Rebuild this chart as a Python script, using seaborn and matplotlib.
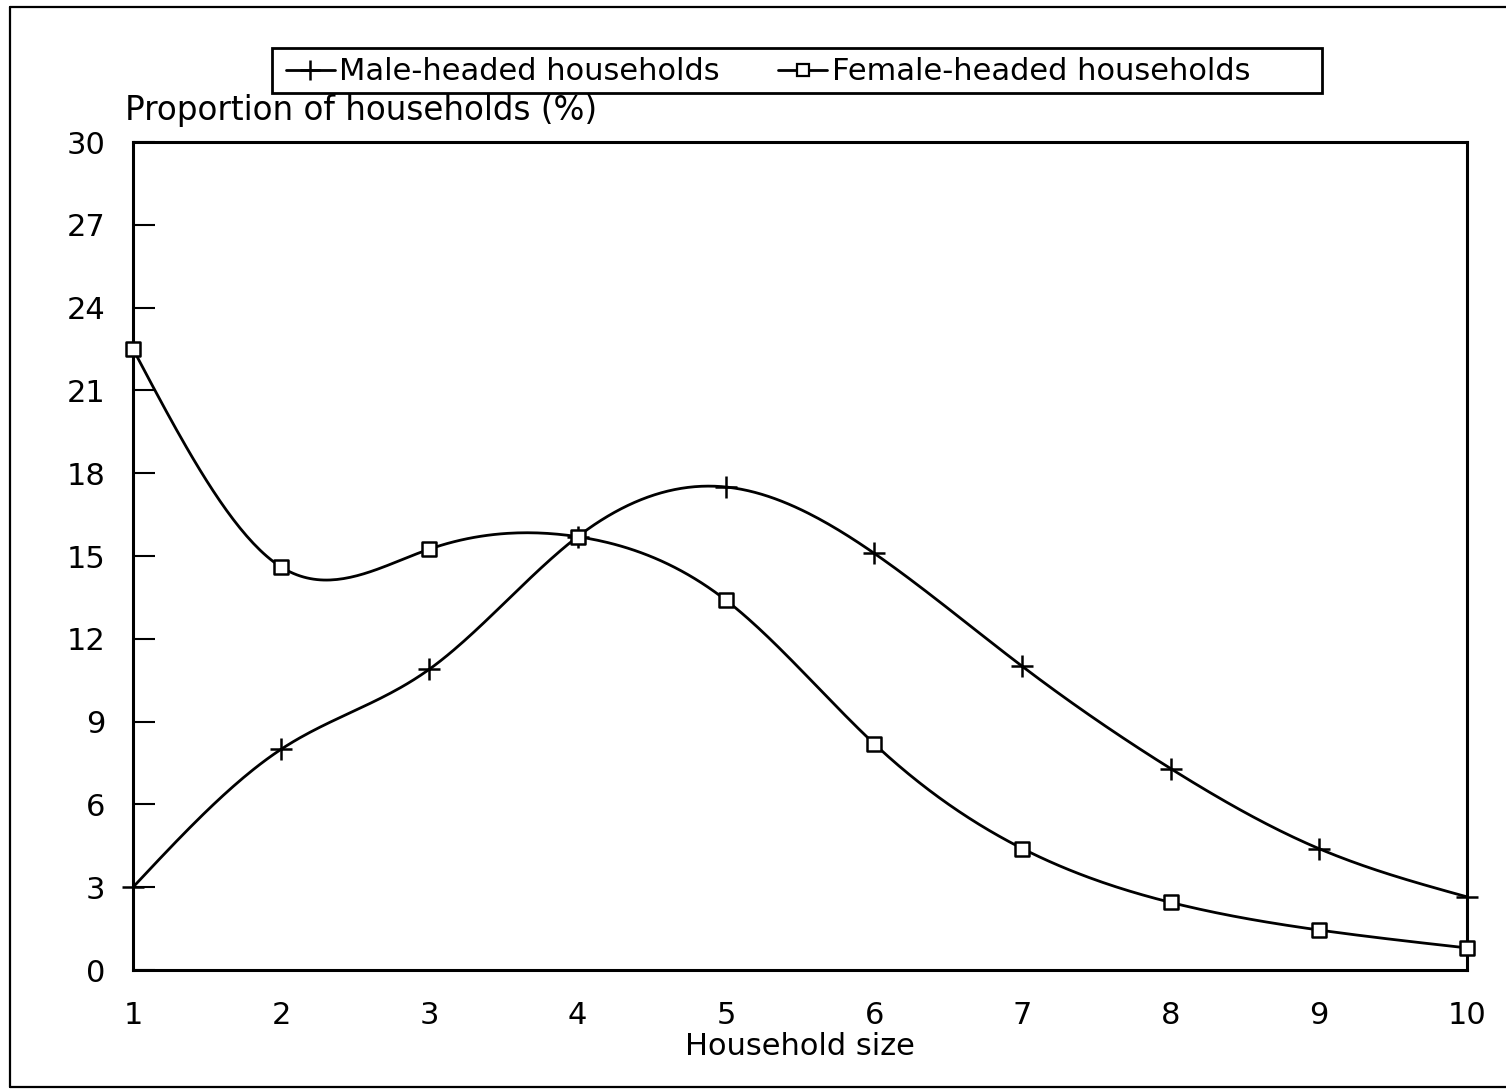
import numpy as np
import pandas as pd
import matplotlib
matplotlib.use("Agg")
import matplotlib.pyplot as plt
from matplotlib.lines import Line2D
from matplotlib.patches import Rectangle
import seaborn as sns

# ---- data ----
household_size = [1, 2, 3, 4, 5, 6, 7, 8, 9, 10]
male_headed = [3.0, 8.0, 10.9, 15.7, 17.5, 15.1, 11.0, 7.3, 4.4, 2.65]
female_headed = [22.5, 14.6, 15.25, 15.7, 13.4, 8.2, 4.4, 2.45, 1.45, 0.8]
y_ticks = [0, 3, 6, 9, 12, 15, 18, 21, 24, 27, 30]
series_names = ["Male-headed households", "Female-headed households"]


def natural_spline(x, y, n=400):
    """Smooth rendering of the line through the data (as the plotter did)."""
    x = np.asarray(x, float)
    y = np.asarray(y, float)
    k = len(x)
    h = np.diff(x)
    A = np.zeros((k, k))
    b = np.zeros(k)
    A[0, 0] = A[-1, -1] = 1
    for i in range(1, k - 1):
        A[i, i - 1] = h[i - 1]
        A[i, i] = 2 * (h[i - 1] + h[i])
        A[i, i + 1] = h[i]
        b[i] = 6 * ((y[i + 1] - y[i]) / h[i] - (y[i] - y[i - 1]) / h[i - 1])
    M = np.linalg.solve(A, b)
    xs = np.linspace(x[0], x[-1], n)
    idx = np.clip(np.searchsorted(x, xs) - 1, 0, k - 2)
    x0, x1 = x[idx], x[idx + 1]
    hh = x1 - x0
    ys = (M[idx] * (x1 - xs) ** 3 / (6 * hh) + M[idx + 1] * (xs - x0) ** 3 / (6 * hh)
          + (y[idx] / hh - M[idx] * hh / 6) * (x1 - xs)
          + (y[idx + 1] / hh - M[idx + 1] * hh / 6) * (xs - x0))
    return xs, ys


sns.set_style("ticks")
plt.rcParams["font.family"] = ["DejaVu Sans"]
plt.rcParams["text.color"] = "black"
plt.rcParams["axes.labelcolor"] = "black"

fig = plt.figure(figsize=(15.06, 10.90), dpi=100)
ax = fig.add_axes([133 / 1506, 1 - 970 / 1090, (1467 - 133) / 1506, (970 - 142) / 1090])

df = pd.DataFrame({"size": household_size, "male": male_headed, "female": female_headed})

for col in ["male", "female"]:
    xs, ys = natural_spline(df["size"], df[col])
    sns.lineplot(x=xs, y=ys, ax=ax, color="black", linewidth=2.0, sort=False)

sns.scatterplot(data=df, x="size", y="male", ax=ax, marker="+", s=230,
                color="black", linewidth=1.8, zorder=5, clip_on=False)
sns.scatterplot(data=df, x="size", y="female", ax=ax, marker="s", s=110,
                facecolors="white", edgecolor="black", linewidth=1.8, zorder=5,
                clip_on=False)

ax.set_xlim(1, 10)
ax.set_ylim(0, 30)
ax.set_xticks(household_size)
ax.set_xticklabels([str(v) for v in household_size])
ax.set_yticks(y_ticks)
ax.set_yticklabels([str(v) for v in y_ticks])
ax.tick_params(axis="y", direction="in", length=16, width=1.5, pad=20,
               labelsize=22, colors="black")
ax.tick_params(axis="x", length=0, pad=22, labelsize=22, colors="black")
for sp in ax.spines.values():
    sp.set_visible(True)
    sp.set_linewidth(2.2)
    sp.set_color("black")

ax.set_xlabel("Household size", fontsize=22, labelpad=2, color="black")
ax.set_ylabel("")
fig.text(125 / 1506, 1 - 110 / 1090, "Proportion of households (%)",
         fontsize=23.5, ha="left", va="center", color="black")

handles = [
    Line2D([], [], color="black", linewidth=2.0, marker="+", markersize=15,
           markeredgewidth=1.8),
    Line2D([], [], color="black", linewidth=2.0, marker="s", markersize=9,
           markerfacecolor="white", markeredgewidth=1.6),
]
leg = ax.legend(handles, series_names, ncol=2, loc="center left",
                bbox_to_anchor=(286 / 1506, 1 - 72 / 1090),
                bbox_transform=fig.transFigure, fontsize=22, frameon=False,
                handlelength=1.6, handletextpad=0.15, columnspacing=1.9,
                borderpad=0.0, borderaxespad=0, labelcolor="black")

# legend box as drawn on the original
fig.add_artist(Rectangle((272 / 1506, 1 - 93 / 1090), (1322 - 272) / 1506, 45 / 1090,
                         transform=fig.transFigure, fill=False, edgecolor="black",
                         linewidth=2.0))

# outer frame of the page
for (x0, y0, x1, y1) in [(10, 7, 10, 1087), (10, 7, 1506, 7), (10, 1087, 1506, 1087)]:
    fig.add_artist(Line2D([x0 / 1506, x1 / 1506], [1 - y0 / 1090, 1 - y1 / 1090],
                          transform=fig.transFigure, color="black", linewidth=1.6))

fig.savefig("out.png", dpi=100, facecolor="white")
